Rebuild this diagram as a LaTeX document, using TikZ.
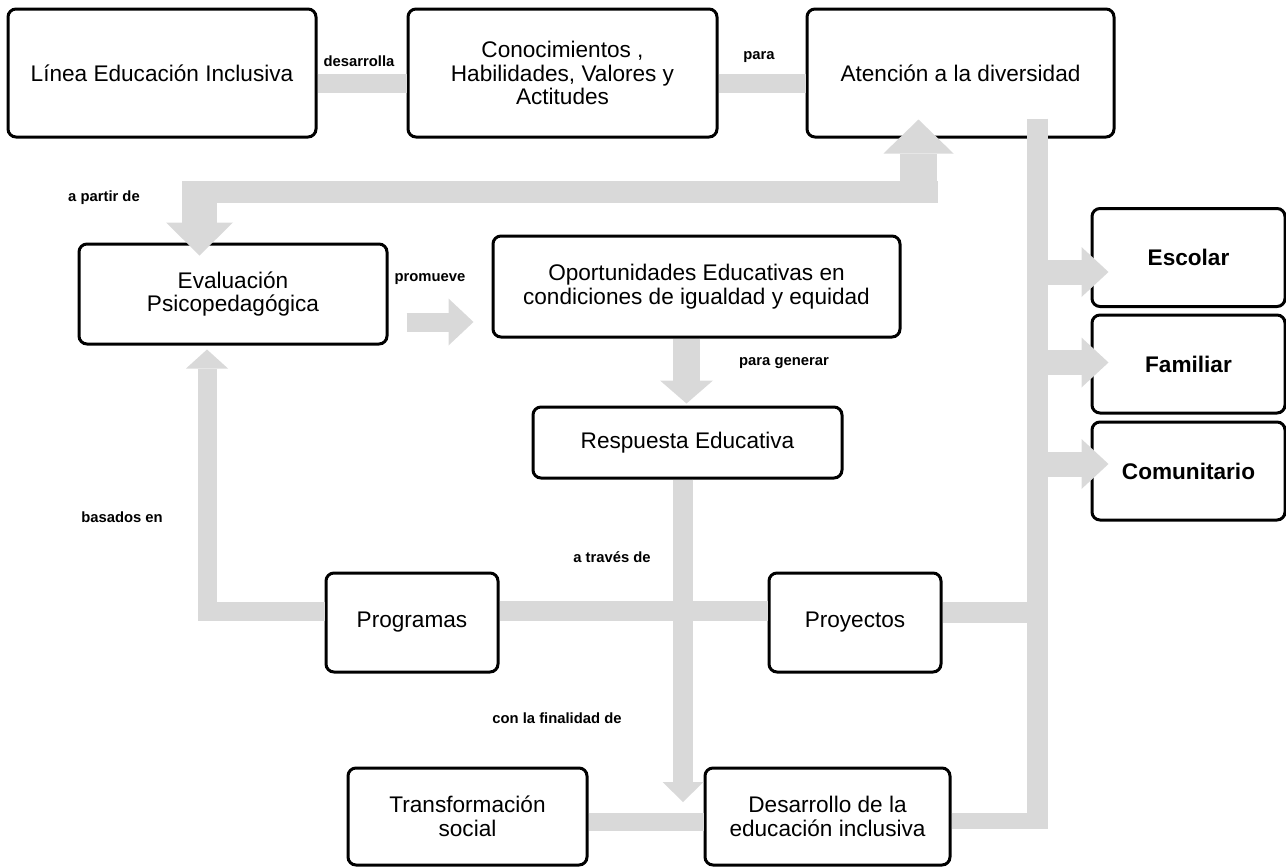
\documentclass[tikz,border=0pt]{standalone}
\usepackage{fontspec}
\setmainfont{Liberation Sans}
\usetikzlibrary{positioning,calc,arrows.meta}
\definecolor{barcol}{RGB}{217,217,217}
\newcommand{\boxfont}{\fontsize{11.3pt}{11.75pt}\selectfont}
\newcommand{\lblfont}{\fontsize{7.4pt}{8pt}\selectfont\bfseries}

\begin{document}
\begin{tikzpicture}[x=0.5pt, y=-0.5pt, node distance=100pt,
  box/.style={rectangle, draw, line width=1.5pt, rounded corners=4pt, align=center, font=\boxfont, inner sep=0pt},
  areabox/.style={box, font=\boxfont\bfseries, minimum width=96.5pt, minimum height=49pt},
  lbl/.style={font=\lblfont, inner sep=0pt},
  bar/.style={draw=barcol, line width=9.5pt},
  fathead/.style 2 args={-{Triangle[length=#1, width=#2, line width=0pt]}}]

  \useasboundingbox (0,0) rectangle (1286,867);

  % boxes
  \node[box, minimum width=154pt, minimum height=64pt] (linea) at (162,73) {Línea Educación Inclusiva};
  \node[box, minimum width=154.5pt, minimum height=64pt, right of=linea, node distance=200.25pt] (conoc) {Conocimientos ,\\Habilidades, Valores y\\Actitudes};
  \node[box, minimum width=153.5pt, minimum height=64pt, right of=conoc, node distance=199pt] (atd) {Atención a la diversidad};
  \node[box, minimum width=154pt, minimum height=50pt] (eval) at (233,294) {Evaluación\\Psicopedagógica};
  \node[box, minimum width=203.5pt, minimum height=50.5pt] (oport) at (696.5,286.5) {Oportunidades Educativas en\\condiciones de igualdad y equidad};
  \node[box, minimum width=154.5pt, minimum height=35.5pt] (resp) at (687.5,442.5) {Respuesta Educativa};
  \node[box, minimum width=86pt, minimum height=49.5pt] (prog) at (412,622.5) {Programas};
  \node[box, minimum width=86pt, minimum height=49.5pt, right of=prog, node distance=221.5pt] (proy) {Proyectos};
  \node[box, minimum width=119.5pt, minimum height=48.5pt] (transf) at (467.5,816.5) {Transformación\\social};
  \node[box, minimum width=122.5pt, minimum height=48.5pt, right of=transf, node distance=180pt] (desa) {Desarrollo de la\\educación inclusiva};
  \node[areabox] (esc) at (1188.5,257.5) {Escolar};
  \node[areabox, below of=esc, node distance=53.25pt] (fam) {Familiar};
  \node[areabox, below of=fam, node distance=53.5pt] (com) {Comunitario};

  % labels
  \node[lbl] (lbldes) at (359,61) {desarrolla};
  \node[lbl] (lblpara) at (759,57) {para};
  \node[lbl] (lblapar) at (104,198) {a partir de};
  \node[lbl] (lblprom) at (430,279) {promueve};
  \node[lbl] (lblgen) at (784,363) {para generar};
  \node[lbl] (lblbas) at (122,517) {basados en};
  \node[lbl] (lbltrav) at (612,557) {a través de};
  \node[lbl] (lblfin) at (557,718) {con la finalidad de};

  % top row
  \draw[bar] ($(linea.east)+(0,10.5)$) -- ($(conoc.west)+(0,10.5)$);
  \draw[bar] ($(conoc.east)+(0,10.5)$) -- ($(atd.west)+(0,10.5)$);

  % elbow between atencion and evaluacion
  \coordinate (elbowl) at (199.5,192);
  \coordinate (elbowr) at (918.5,192);
  \draw[bar, line width=11pt] ($(elbowl)+(-17.5,0)$) -- ($(elbowr)+(19.5,0)$);
  \draw[bar, line width=17.5pt, fathead={16.5pt}{33.5pt}] ($(elbowl)+(0,-11)$) -- ($(eval.north)+(-33.5,13)$);
  \draw[bar, line width=18.5pt, fathead={17pt}{35pt}] ($(elbowr)+(0,11)$) -- ($(atd.south)+(-42,-19)$);

  % middle
  \draw[bar, fathead={12.5pt}{23.5pt}] ($(eval.east)+(18,28)$) -- ($(oport.west)+(-18,35.5)$);
  \draw[bar, line width=13.5pt, fathead={11.5pt}{26.5pt}] ($(oport.south)+(-10,0)$) -- ($(resp.north)+(-1,-2)$);
  \draw[bar, line width=10pt, fathead={10pt}{20.5pt}] ($(resp.south)+(-4.5,0)$) -- ($(resp.south |- desa.west)+(-4.5,-14.5)$);
  \draw[bar, fathead={9.5pt}{21pt}] ($(prog.west)+(0,-11.5)$) -| ($(eval.south)+(-26,4)$);
  \draw[bar, line width=10pt] ($(prog.east)+(0,-11.5)$) -- ($(proy.west)+(0,-11.5)$);

  % trunk on the right
  \coordinate (trunktop) at ($(atd.south)+(77,-20)$);
  \coordinate (trunkbot) at (trunktop |- desa.east);
  \draw[bar, line width=10.5pt] ($(proy.east)+(0,-10)$) -- ($(proy.east -| trunktop)+(0,-10)$);
  \draw[bar, line width=10.5pt] (trunktop) -- ($(trunkbot)+(0,12.5)$);
  \draw[bar, line width=8pt] ($(desa.east)+(0,4.5)$) -- ($(trunkbot)+(10.5,4.5)$);
  \draw[bar, line width=9pt] ($(transf.east)+(0,5)$) -- ($(desa.west)+(0,5)$);
  \foreach \n/\dy in {esc/14.5, fam/-1.5, com/-7}
    \draw[bar, line width=12.5pt, fathead={13.5pt}{25pt}] ($(\n.west -| trunktop)+(0,\dy)$) -- ($(\n.west)+(18,\dy)$);
\end{tikzpicture}
\end{document}
